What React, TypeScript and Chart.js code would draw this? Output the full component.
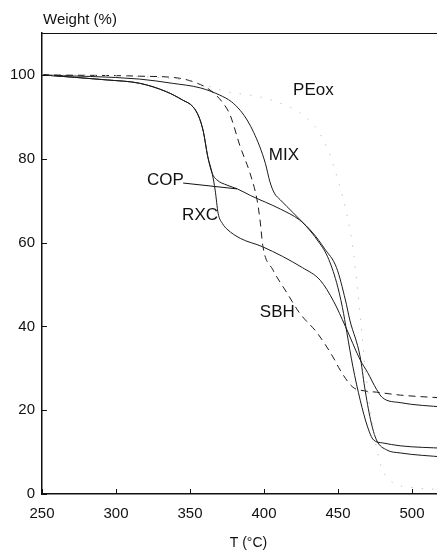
import React, { useEffect, useRef } from "react";
import { Chart, registerables } from "chart.js";

Chart.register(...registerables);

// ---- data (T in °C, weight in %) ----
const tempRXC = [250, 294, 316, 334, 345, 352, 356, 359, 362, 365, 367, 369, 372, 375, 384, 399, 426, 438, 447, 455, 465, 470, 476, 480, 492, 522];
const wRXC = [100, 98.8, 98, 96, 94, 92.4, 90, 86.5, 80.5, 76.5, 72.5, 67, 64.5, 63.2, 61, 59, 54, 51, 46, 40, 32, 29, 25, 23, 21.8, 20.7];

const tempCOP = [250, 294, 316, 334, 345, 352, 356, 359, 362, 365, 368, 375, 382, 391, 411, 424, 433, 441, 449, 455, 458, 465, 468, 472, 476, 483, 492, 522];
const wCOP = [100, 98.8, 98, 96, 94, 92.4, 90, 86.5, 80.5, 76.5, 75, 73.7, 72.8, 71.2, 68, 65.4, 62.3, 58.5, 54, 46.3, 41.5, 32.7, 25.5, 17.7, 12.9, 10.5, 9.8, 8.8];

const tempMIX = [250, 316, 338, 357, 370, 378, 384, 389, 393, 397, 401, 404, 407, 411, 420, 429, 436, 443, 449, 453, 456, 460, 465, 470, 474, 480, 492, 522];
const wMIX = [100, 99, 98, 96.9, 95.2, 93.6, 91.5, 89, 86.3, 83, 78.8, 74.5, 71.8, 70.2, 67, 63.7, 60.6, 56.6, 50.5, 44.5, 38.5, 30.5, 22.4, 16, 12.9, 12.2, 11.5, 10.9];

const tempSBH = [250, 316, 343, 355, 363.5, 371.6, 377, 384, 390.5, 395.3, 397.3, 399.3, 406, 415.5, 424, 436, 446.6, 451.4, 460, 468, 476, 492, 522];
const wSBH = [100, 99.7, 99.2, 98, 96.4, 93.6, 90.5, 82.8, 76.6, 70.2, 65.4, 59, 53.5, 48, 43.2, 38.4, 32.7, 29.6, 25.5, 24.6, 24.3, 23.6, 22.9];

const tempPEox = [250, 300, 350, 375, 395, 409, 424, 436, 440, 446.6, 459.5, 463.5, 470, 478, 486, 497, 522];
const wPEox = [100, 99.8, 98.5, 96, 94.9, 93.5, 91, 87, 84.5, 78.8, 60, 48, 25, 8, 3, 1.7, 1];

// curve labels: [text, T, W]
const curveLabels: [string, number, number][] = [
  ["PEox", 433.4, 96.4],
  ["MIX", 413.5, 80.7],
  ["COP", 333.4, 74.9],
  ["RXC", 356.8, 66.6],
  ["SBH", 409, 43.3],
];
const copLeader = { t1: 345.4, w1: 74.2, t2: 381.8, w2: 72.8 };

const xMin = 250;
const xMax = 522.3;
const yMin = 0;
const yMax = 110;
const xStep = 50;
const yStep = 20;

const yTitle = "Weight (%)";
const xTitle = "T (°C)";

const FONT = '"Liberation Sans", Arial, Helvetica, sans-serif';

function pts(t: number[], w: number[]) {
  return t.map((v, i) => ({ x: v, y: w[i] }));
}

const overlay = {
  id: "overlay",
  afterDraw(chart: any) {
    const { ctx, chartArea, scales } = chart;
    const x = scales.x;
    const y = scales.y;
    const { left, right, top, bottom } = chartArea;
    ctx.save();
    ctx.strokeStyle = "#111";
    ctx.lineWidth = 1;
    ctx.beginPath();
    // top border
    ctx.moveTo(left, Math.round(top) + 0.5);
    ctx.lineTo(right, Math.round(top) + 0.5);
    // inner ticks
    x.ticks.forEach((t: any) => {
      const px = Math.round(x.getPixelForValue(t.value)) + 0.5;
      ctx.moveTo(px, bottom);
      ctx.lineTo(px, bottom - 5);
    });
    y.ticks.forEach((t: any) => {
      const py = Math.round(y.getPixelForValue(t.value)) + 0.5;
      ctx.moveTo(left, py);
      ctx.lineTo(left + 5, py);
    });
    // COP leader
    ctx.moveTo(x.getPixelForValue(copLeader.t1), y.getPixelForValue(copLeader.w1));
    ctx.lineTo(x.getPixelForValue(copLeader.t2), y.getPixelForValue(copLeader.w2));
    ctx.stroke();

    ctx.fillStyle = "#111";
    ctx.font = `17px ${FONT}`;
    ctx.textAlign = "center";
    ctx.textBaseline = "middle";
    curveLabels.forEach(([txt, t, w]) => {
      ctx.fillText(txt, x.getPixelForValue(t), y.getPixelForValue(w));
    });

    ctx.font = `15px ${FONT}`;
    ctx.textAlign = "left";
    ctx.textBaseline = "alphabetic";
    ctx.fillText(yTitle, left + 1, top - 9);

    ctx.font = `14px ${FONT}`;
    ctx.textAlign = "center";
    ctx.textBaseline = "middle";
    ctx.fillText(xTitle, (left + right) / 2 + 5, bottom + 49);
    ctx.restore();
  },
};

export default function App() {
  const ref = useRef<HTMLCanvasElement | null>(null);
  useEffect(() => {
    if (!ref.current) return;
    const solid = (label: string, t: number[], w: number[]) => ({
      label,
      data: pts(t, w),
      borderColor: "#1a1a1a",
      borderWidth: 1,
      pointRadius: 0,
      cubicInterpolationMode: "monotone" as const,
      fill: false,
    });
    const chart = new Chart(ref.current, {
      type: "line",
      data: {
        datasets: [
          { ...solid("PEox", tempPEox, wPEox), borderColor: "#c4c4c4", borderDash: [1.5, 9] },
          { ...solid("SBH", tempSBH, wSBH), borderDash: [7, 5] },
          solid("MIX", tempMIX, wMIX),
          solid("COP", tempCOP, wCOP),
          solid("RXC", tempRXC, wRXC),
        ],
      },
      options: {
        responsive: false,
        animation: false,
        devicePixelRatio: 1,
        layout: { padding: { top: 25, right: 0, left: 0, bottom: 0 } },
        plugins: { legend: { display: false }, tooltip: { enabled: false }, title: { display: false } },
        scales: {
          x: {
            type: "linear",
            min: xMin,
            max: xMax,
            ticks: {
              stepSize: xStep,
              includeBounds: false,
              padding: 11,
              color: "#111",
              font: { size: 15, family: FONT },
              maxRotation: 0,
            },
            grid: { display: true, drawOnChartArea: false, drawTicks: false },
            border: { display: true, color: "#111", width: 1.5 },
            afterFit: (s: any) => {
              s.height = 57;
            },
          },
          y: {
            type: "linear",
            min: yMin,
            max: yMax,
            ticks: {
              stepSize: yStep,
              includeBounds: false,
              padding: 7,
              color: "#111",
              font: { size: 15, family: FONT },
            },
            grid: { display: true, drawOnChartArea: false, drawTicks: false },
            border: { display: true, color: "#111", width: 1.5 },
            afterFit: (s: any) => {
              s.width = 34;
            },
          },
        },
      },
      plugins: [overlay],
    } as any);
    return () => chart.destroy();
  }, []);
  return (
    <div style={{ width: 437, height: 543 }}>
      <canvas ref={ref} width={437} height={543} style={{ display: "block" }} />
    </div>
  );
}
